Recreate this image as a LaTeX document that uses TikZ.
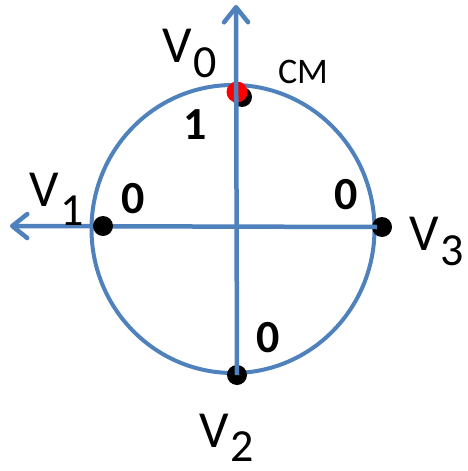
\documentclass[tikz,border=0pt]{standalone}
\usepackage{fontspec}
\setmainfont{Carlito}
\usetikzlibrary{arrows.meta,shapes.geometric}
\definecolor{axisblue}{HTML}{4F81BD}
\newcommand\vlabel[2]{{\fontsize{52}{52}\selectfont V}\kern1.5pt\raisebox{-#2pt}{\fontsize{46}{46}\selectfont #1}}
\tikzset{
  axisline/.style={draw=axisblue, line width=4.5pt, -{Straight Barb[length=15pt,width=24pt,line join=round,line cap=round]}},
  ring/.style={draw=axisblue, line width=4pt},
  blackdot/.style={circle, fill=black, minimum size=20pt, inner sep=0pt},
  reddot/.style={circle, fill=red, minimum size=21pt, inner sep=0pt},
  weight/.style={font=\fontsize{46}{46}\selectfont\bfseries, inner sep=0pt, anchor=center},
  vlab/.style={inner sep=0pt, anchor=base west},
}
\begin{document}
\begin{tikzpicture}[x=1pt,y=-1pt]
\useasboundingbox (0,0) rectangle (468,471);
\node[ring, ellipse, minimum width=283pt, minimum height=288pt, inner sep=0pt] (c) at (233,229) {};
\node[blackdot] (p3) at (382,227) {};
\node[blackdot] (p2) at (237,375) {};
\node[blackdot] (p0b) at (242,97) {};
\node[reddot] (p0) at (237,92) {};
\coordinate (tipL) at (10,226);
\coordinate (tipT) at (236,5);
\coordinate (endR) at (377,227);
\draw[axisline] (endR) -- (tipL);
\draw[axisline] (p2.center) -- (tipT);
\node[blackdot] (p1) at (103,226) {};
\node[vlab] (v0) at (162,62) {\vlabel{0}{15}};
\node[vlab] (v1) at (29,206) {\vlabel{1}{19}};
\node[vlab] (v3) at (409,250) {\vlabel{3}{15}};
\node[vlab] (v2) at (199,447) {\vlabel{2}{14}};
\node[inner sep=0pt, font=\fontsize{36}{36}\selectfont] (cm) at (303,71.5) {CM};
\node[weight] (w0) at (195,125) {1};
\node[weight] (w1) at (133.5,199) {0};
\node[weight] (w3) at (346.5,195) {0};
\node[weight] (w2) at (268.5,337.5) {0};
\end{tikzpicture}
\end{document}
